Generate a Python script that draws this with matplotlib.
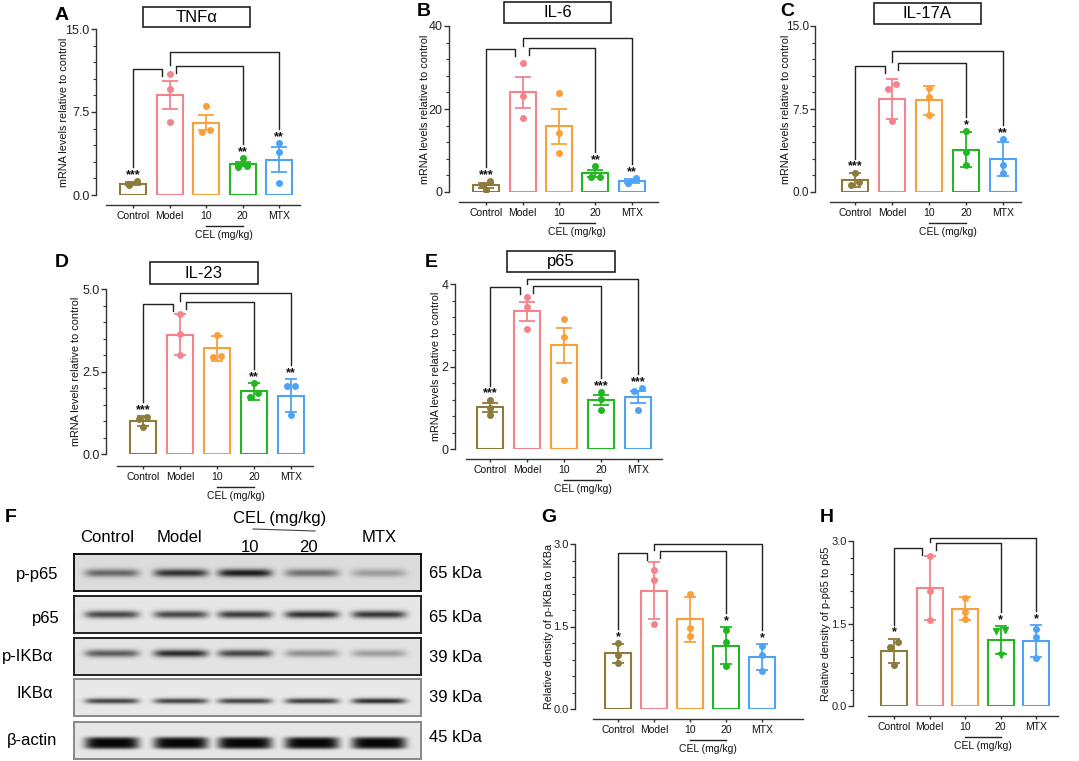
import numpy as np
import matplotlib.pyplot as plt
from matplotlib.patches import Rectangle
from matplotlib.ticker import MultipleLocator, FormatStrFormatter
from matplotlib.transforms import blended_transform_factory

W, H = 1079, 761
SANS = ['Liberation Sans', 'DejaVu Sans']
plt.rcParams['font.family'] = SANS

groups = ['Control', 'Model', '10', '20', 'MTX']
colors = ['#8c7b3a', '#f5838c', '#f9a03c', '#22b622', '#4ea3f7']

# A  TNFa (mean, error bar, single animals)
tnf_mean = [1.03, 9.05, 6.55, 2.84, 3.20]
tnf_err = [0.12, 1.25, 0.70, 0.18, 1.10]
tnf_pts = [[1.27, 1.00, 0.90], [10.96, 9.54, 6.64], [8.00, 5.73, 5.90], [3.32, 2.57, 2.66], [4.68, 3.86, 1.06]]
tnf_stars = ['***', '', '', '**', '**']

# B  IL-6
il6_mean = [1.68, 24.0, 15.8, 4.48, 2.56]
il6_err = [0.60, 3.80, 4.20, 0.80, 0.50]
il6_pts = [[2.6, 1.8, 0.4], [31.0, 23.1, 17.8], [23.8, 14.3, 9.4], [6.2, 3.6, 3.6], [3.4, 2.2, 2.1]]
il6_stars = ['***', '', '', '**', '**']

# C  IL-17A
il17_mean = [1.12, 8.42, 8.27, 3.83, 2.99]
il17_err = [0.63, 1.82, 1.27, 1.55, 1.53]
il17_pts = [[1.75, 0.90, 0.65], [9.72, 9.27, 6.40], [9.39, 8.54, 6.94], [5.52, 3.65, 2.41], [4.77, 2.44, 1.75]]
il17_stars = ['***', '', '', '*', '**']

# D  IL-23
il23_mean = [1.01, 3.62, 3.20, 1.90, 1.77]
il23_err = [0.15, 0.62, 0.39, 0.25, 0.51]
il23_pts = [[1.13, 1.06, 0.83], [4.23, 3.64, 2.99], [3.62, 2.98, 2.94], [2.16, 1.85, 1.72], [2.07, 2.05, 1.19]]
il23_stars = ['***', '', '', '**', '**']

# E  p65 mRNA
p65m_mean = [1.01, 3.34, 2.51, 1.18, 1.26]
p65m_err = [0.11, 0.23, 0.43, 0.12, 0.15]
p65m_pts = [[1.20, 1.00, 0.82], [3.68, 3.44, 2.90], [3.15, 2.71, 1.68], [1.37, 1.22, 0.94], [1.47, 1.40, 0.94]]
p65m_stars = ['***', '', '', '***', '***']

# G  p-IKBa / IKBa
ikb_mean = [1.01, 2.15, 1.63, 1.15, 0.94]
ikb_err = [0.18, 0.52, 0.41, 0.34, 0.235]
ikb_pts = [[1.20, 0.98, 0.83], [2.53, 2.34, 1.55], [2.09, 1.47, 1.32], [1.43, 1.22, 0.78], [1.14, 0.98, 0.70]]
ikb_stars = ['*', '', '', '*', '*']

# H  p-p65 / p65
pp65_mean = [1.00, 2.14, 1.77, 1.20, 1.18]
pp65_err = [0.225, 0.58, 0.21, 0.26, 0.285]
pp65_pts = [[1.16, 1.08, 0.74], [2.72, 2.10, 1.57], [1.97, 1.71, 1.58], [1.38, 1.36, 0.93], [1.40, 1.26, 0.88]]
pp65_stars = ['*', '', '', '*', '*']

# F  western blot, band darkness per lane (0 = none, 1 = saturated)
blot_rows = ['p-p65', 'p65', 'p-IKBα', 'IKBα', 'β-actin']
blot_kda = ['65 kDa', '65 kDa', '39 kDa', '39 kDa', '45 kDa']
band_p_p65 = [0.55, 0.80, 0.90, 0.50, 0.30]
band_p65 = [0.72, 0.72, 0.78, 0.82, 0.80]
band_p_ikba = [0.62, 0.85, 0.72, 0.38, 0.32]
band_ikba = [0.72, 0.72, 0.72, 0.75, 0.82]
band_actin = [1.0, 1.0, 1.0, 1.0, 1.0]
blot_bands = [band_p_p65, band_p65, band_p_ikba, band_ikba, band_actin]

fig = plt.figure(figsize=(W / 100, H / 100), dpi=100)
PT = 0.72  # points per pixel


def bar_panel(p):
    yx, c0, sp, top, zero = p['yx'], p['c0'], p['sp'], p['top'], p['zero']
    xl0, xl1, xly = p['xl']
    ymax = p['ymax']
    ax = fig.add_axes([yx / W, 1 - zero / H, (xl1 - yx) / W, (zero - top) / H])
    ax.set_xlim((yx - c0) / sp, (xl1 - c0) / sp)
    ax.set_ylim(0, ymax)
    ppu = (zero - top) / ymax
    for s in ['top', 'right']:
        ax.spines[s].set_visible(False)
    for s in ['left', 'bottom']:
        ax.spines[s].set_color('#333333')
        ax.spines[s].set_linewidth(1.0)
    ax.spines['bottom'].set_position(('outward', (xly - zero) * PT))
    ax.spines['bottom'].set_bounds((xl0 - c0) / sp, (xl1 - c0) / sp)
    ax.spines['left'].set_bounds(0, ymax)
    ax.yaxis.set_major_locator(MultipleLocator(p['major']))
    ax.yaxis.set_minor_locator(MultipleLocator(p['major'] / 5))
    ax.yaxis.set_major_formatter(FormatStrFormatter(p['fmt']))
    ax.tick_params(axis='y', which='major', length=3.5, width=1.0, color='#333333', pad=1.0,
                   labelsize=p.get('ysize', 9), labelcolor='#222222')
    ax.tick_params(axis='y', which='minor', length=2, width=0.8, color='#333333')
    ax.set_xticks(range(len(groups)))
    ax.set_xticklabels(groups, fontsize=7.5, color='#111111')
    ax.tick_params(axis='x', length=2.5, width=1.0, color='#333333', pad=1.5)
    ax.set_ylabel(p['ylabel'], fontsize=7.8, color='#111111', va='center')
    ax.yaxis.set_label_coords((p['ylab_x'] - yx) / (xl1 - yx), 0.5)

    bw = 26 / sp
    cap = p['cap']
    for i in range(len(groups)):
        c = colors[i]
        ax.bar(i, p['mean'][i], width=bw, facecolor='none', edgecolor=c, linewidth=1.5, zorder=2)
        ax.errorbar(i, p['mean'][i], yerr=p['err'][i], color=c, capsize=cap, capthick=1.3,
                    elinewidth=1.3, fmt='none', zorder=3)
        vals = sorted(p['pts'][i])
        xs = [i] * 3
        # spread near-equal values sideways, as the swarm does
        for k in range(2):
            if (vals[k + 1] - vals[k]) * ppu < 5:
                xs[k] = i - 0.12
                xs[k + 1] = i + 0.12
        mk = p.get('markers', ['o'] * 5)[i]
        ax.plot(xs, vals, linestyle='none', marker=mk, ms=4, color=c, zorder=4)

    tops = [max(p['mean'][i] + p['err'][i], max(p['pts'][i])) for i in range(len(groups))]
    for i, s in enumerate(p['stars']):
        if s:
            ax.text(i, tops[i] + 3 / ppu, s, ha='center', va='baseline', fontsize=9,
                    fontweight='bold', color='#111111')
    L1, L2, L3 = [f * ymax for f in p['levels']]
    d = 7 / ppu
    kw = dict(color='#222222', lw=1.0, clip_on=False, zorder=5)
    ax.plot([0, 0, 0.8, 0.8], [tops[0] + 14 / ppu, L1, L1, L1 - d], **kw)
    ax.plot([1.17, 1.17, 3, 3], [L2 - d, L2, L2, tops[3] + 14 / ppu], **kw)
    ax.plot([1, 1, 4, 4], [L2 + 1.5 / ppu, L3, L3, tops[4] + 14 / ppu], **kw)

    # CEL (mg/kg) group label below 10 and 20
    tr = blended_transform_factory(ax.transData, ax.transAxes)
    hpx = zero - top
    yline = -(xly + 21 - zero) / hpx
    ax.plot([2.0, 3.0], [yline, yline], transform=tr, color='#222222', lw=1.0, clip_on=False)
    ax.text(2.5, -(xly + 30 - zero) / hpx, 'CEL (mg/kg)', transform=tr, ha='center', va='center',
            fontsize=7.5, color='#111111')

    lx, ly = p['letter_xy']
    fig.text(lx / W, 1 - ly / H, p['letter'], fontsize=14, fontweight='bold', ha='center', va='center')
    if p.get('box'):
        bx0, by0, bx1, by1 = p['box']
        fig.patches.append(Rectangle((bx0 / W, 1 - by1 / H), (bx1 - bx0) / W, (by1 - by0) / H,
                                     transform=fig.transFigure, fill=False, lw=1.2, ec='#222222'))
        fig.text((bx0 + bx1) / 2 / W, 1 - (by0 + by1) / 2 / H, p['title'], fontsize=12,
                 ha='center', va='center')
    return ax


mrna = 'mRNA levels relative to control'
panels = [
    dict(letter='A', title='TNFα', ylabel=mrna, ymax=15, major=7.5, fmt='%.1f', cap=5.5,
         mean=tnf_mean, err=tnf_err, pts=tnf_pts, stars=tnf_stars,
         yx=96, c0=133, sp=36.5, top=29, zero=195, xl=(106, 300, 205), levels=(0.76, 0.777, 0.86),
         letter_xy=(62, 15), box=(143, 7, 250, 27), ylab_x=64),
    dict(letter='B', title='IL-6', ylabel=mrna, ymax=40, major=20, fmt='%d', cap=5.5,
         mean=il6_mean, err=il6_err, pts=il6_pts, stars=il6_stars,
         yx=449, c0=486, sp=36.5, top=26, zero=192, xl=(459, 658, 202), levels=(0.86, 0.87, 0.925),
         letter_xy=(424, 12), box=(504, 2, 611, 23), ylab_x=425),
    dict(letter='C', title='IL-17A', ylabel=mrna, ymax=15, major=7.5, fmt='%.1f', cap=4.3,
         mean=il17_mean, err=il17_err, pts=il17_pts, stars=il17_stars, ysize=8.5,
         yx=815, c0=855, sp=37, top=26, zero=192, xl=(830, 1021, 202), levels=(0.76, 0.777, 0.847),
         letter_xy=(787, 12), box=(874, 3, 981, 24), ylab_x=786),
    dict(letter='D', title='IL-23', ylabel=mrna, ymax=5, major=2.5, fmt='%.1f', cap=4.3,
         mean=il23_mean, err=il23_err, pts=il23_pts, stars=il23_stars,
         yx=106, c0=143, sp=37, top=289, zero=454, xl=(117, 313, 466), levels=(0.91, 0.92, 0.976),
         letter_xy=(62, 262), box=(150, 262, 258, 284), ylab_x=76),
    dict(letter='E', title='p65', ylabel=mrna, ymax=4, major=2, fmt='%d', cap=5.5,
         mean=p65m_mean, err=p65m_err, pts=p65m_pts, stars=p65m_stars,
         yx=455, c0=490, sp=37, top=284, zero=449, xl=(466, 662, 459), levels=(0.98, 0.99, 1.03),
         letter_xy=(431, 262), box=(507, 251, 615, 272), ylab_x=436),
    dict(letter='G', title='', ylabel='Relative density of p-IKBa to IKBa', ymax=3, major=1.5, fmt='%.1f',
         cap=4.3, mean=ikb_mean, err=ikb_err, pts=ikb_pts, stars=ikb_stars, ysize=8,
         yx=575, c0=618, sp=36, top=544, zero=709, xl=(593, 803, 719), levels=(0.947, 0.957, 1.0),
         letter_xy=(549, 517), box=None, ylab_x=549),
    dict(letter='H', title='', ylabel='Relative density of p-p65 to p65', ymax=3, major=1.5, fmt='%.1f',
         cap=4.3, mean=pp65_mean, err=pp65_err, pts=pp65_pts, stars=pp65_stars, ysize=8,
         markers=['o', 'o', 'o', 'v', 'o'],
         yx=853, c0=894, sp=35.5, top=541, zero=706, xl=(868, 1058, 716), levels=(0.957, 0.987, 1.017),
         letter_xy=(827, 517), box=None, ylab_x=826),
]
for p in panels:
    bar_panel(p)

# ---- F: western blot strips ----
strip_x0, strip_x1 = 74, 421
strip_tops = [554, 596, 638, 679, 722]
strip_h = 37
band_dy = [19, 19, 16, 22, 21]
band_sig = [4.0, 3.6, 3.6, 2.8, 6.0]
strip_bg = [0.86, 0.90, 0.89, 0.91, 0.90]
strip_ec = ['#111111', '#222222', '#222222', '#888888', '#888888']
lane_px = [112, 181, 245, 312, 379]
row_lab_x = [58, 60, 53, 53, 57]
row_lab_y = [575, 618, 656, 694, 740]
kda_y = [573, 618, 657, 698, 737]

xx = np.arange(strip_x0, strip_x1) + 0.5
for r in range(len(blot_rows)):
    yy = np.arange(strip_h) + 0.5
    dark = np.zeros((strip_h, xx.size))
    for j, lx in enumerate(lane_px):
        hx = np.exp(-((xx - lx) / 27.0) ** 6)
        if r == 4:
            vy = np.exp(-((yy - band_dy[r]) / band_sig[r]) ** 4)
        else:
            vy = np.exp(-((yy - band_dy[r]) / band_sig[r]) ** 2)
        dark = np.maximum(dark, blot_bands[r][j] * np.outer(vy, hx))
    img = strip_bg[r] * (1 - 0.97 * dark)
    t = strip_tops[r]
    bax = fig.add_axes([strip_x0 / W, 1 - (t + strip_h) / H, (strip_x1 - strip_x0) / W, strip_h / H])
    bax.imshow(img, cmap='gray', vmin=0, vmax=1, aspect='auto', interpolation='bilinear')
    bax.set_xticks([])
    bax.set_yticks([])
    for s in bax.spines.values():
        s.set_color(strip_ec[r])
        s.set_linewidth(1.4)
    fig.text(row_lab_x[r] / W, 1 - row_lab_y[r] / H, blot_rows[r], fontsize=12, ha='right', va='center')
    fig.text(429 / W, 1 - kda_y[r] / H, blot_kda[r], fontsize=12, ha='left', va='center')

col_names = ['Control', 'Model', '10', '20', 'MTX']
col_y = [538, 538, 547, 547, 538]
col_x = [107, 179, 250, 308, 379]
for name, cx, cy in zip(col_names, col_x, col_y):
    fig.text(cx / W, 1 - cy / H, name, fontsize=12, ha='center', va='center')
fig.text(280 / W, 1 - 518 / H, 'CEL (mg/kg)', fontsize=12, ha='center', va='center')
fig.add_artist(plt.Line2D([253 / W, 315 / W], [1 - 529 / H, 1 - 531 / H], color='#444444', lw=0.8))
fig.text(11 / W, 1 - 517 / H, 'F', fontsize=14, fontweight='bold', ha='center', va='center')

fig.savefig('out.png', dpi=100, facecolor='white')
